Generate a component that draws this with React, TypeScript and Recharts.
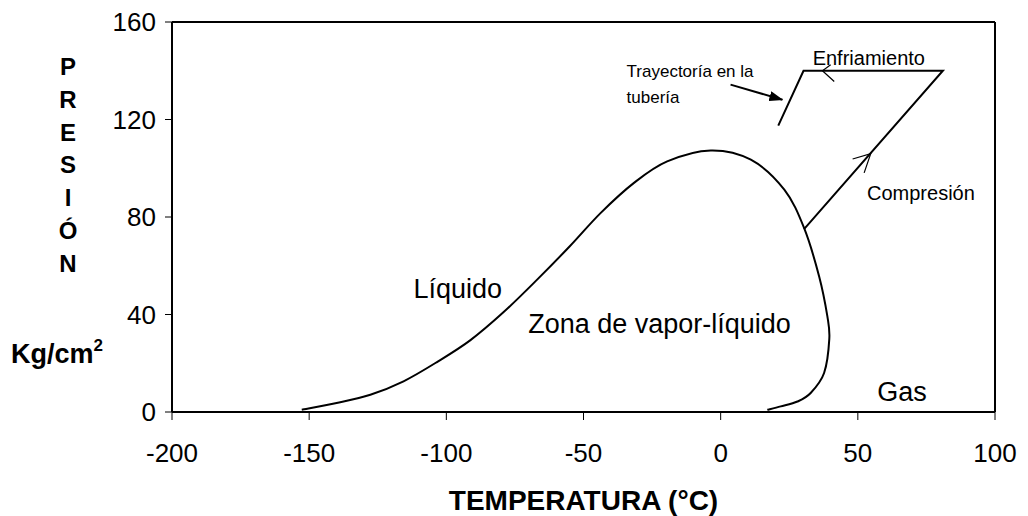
import React from 'react';
import { LineChart, Line, XAxis, YAxis, ReferenceLine, ReferenceDot } from 'recharts';

const FONT = '"Liberation Sans", Arial, Helvetica, sans-serif';

const xTicks = [-200, -150, -100, -50, 0, 50, 100];
const yTicks = [0, 40, 80, 120, 160];

// saturation dome: temperatura (°C) / presión (kg/cm2), read around the curve
// from the bottom-left end, over the top, down to the bottom-right end
const domeT = [-152.7, -140, -127.7, -115.6, -103.4, -91.2, -79.1, -66.9, -55, -43.8, -31.6, -19.5, -3.6, 11, 23.2, 30.4, 35.9, 38.9, 39.6, 37.7, 32.8, 28, 21.9, 17];
const domeP = [0.9, 3.7, 7.1, 12.6, 20.5, 29.5, 41, 54.3, 68, 81.6, 94, 102.8, 107.3, 103.5, 91.2, 75.5, 55.6, 39.2, 30, 16, 7.8, 4.3, 2.3, 0.9];

// compresión -> enfriamiento -> tubería
const cycleT = [30.4, 81, 30.2, 21];
const cycleP = [75, 140, 140, 117.5];

// open arrow heads on the cycle
const compArrowT = [48.1, 54.7, 52.3];
const compArrowP = [103.8, 106, 98.1];
const coolArrowT = [40.1, 37.1, 41.4];
const coolArrowP = [142.5, 140, 135.6];

// pointer to the pipe line
const pipeArrowT = [3.6, 22.5];
const pipeArrowP = [134.3, 128.1];

const zip = (ts: number[], ps: number[]) => ts.map((t, i) => ({ t, p: ps[i] }));

const dome = zip(domeT, domeP);
const cycle = zip(cycleT, cycleP);
const compArrow = zip(compArrowT, compArrowP);
const coolArrow = zip(coolArrowT, coolArrowP);
const pipeArrow = zip(pipeArrowT, pipeArrowP);

const notes = [
  { text: 'Líquido', t: -95.8, p: 50.8, size: 27, anchor: 'middle' },
  { text: 'Zona de vapor-líquido', t: -22.3, p: 36.5, size: 27, anchor: 'middle' },
  { text: 'Gas', t: 66.1, p: 8.3, size: 27, anchor: 'middle' },
  { text: 'Compresión', t: 73, p: 90, size: 20, anchor: 'middle' },
  { text: 'Enfriamiento', t: 54, p: 145.4, size: 20, anchor: 'middle' },
  { text: 'Trayectoría en la', t: -34.3, p: 140.1, size: 17, anchor: 'start' },
  { text: 'tubería', t: -34.3, p: 129.4, size: 17, anchor: 'start' },
];

const yLetters = ['P', 'R', 'E', 'S', 'I', 'Ó', 'N'];

// Catmull-Rom curve (passes through every point, works when x turns back)
const catmullRom = (context: any) => {
  let pts: [number, number][] = [];
  return {
    areaStart() {},
    areaEnd() {},
    lineStart() {
      pts = [];
    },
    point(x: number, y: number) {
      pts.push([+x, +y]);
    },
    lineEnd() {
      if (!pts.length) return;
      context.moveTo(pts[0][0], pts[0][1]);
      for (let i = 0; i < pts.length - 1; i++) {
        const p0 = pts[i - 1] || pts[i];
        const p1 = pts[i];
        const p2 = pts[i + 1];
        const p3 = pts[i + 2] || p2;
        context.bezierCurveTo(
          p1[0] + (p2[0] - p0[0]) / 6,
          p1[1] + (p2[1] - p0[1]) / 6,
          p2[0] - (p3[0] - p1[0]) / 6,
          p2[1] - (p3[1] - p1[1]) / 6,
          p2[0],
          p2[1]
        );
      }
    },
  };
};

const NoteLabel = (props: any) => {
  const { viewBox, text, size, anchor } = props;
  const cx = viewBox.x + (viewBox.width || 0) / 2;
  const cy = viewBox.y + (viewBox.height || 0) / 2;
  return (
    <text x={cx} y={cy + size * 0.355} textAnchor={anchor} fontSize={size} fontFamily={FONT} fill="#000">
      {text}
    </text>
  );
};

const YTitle = (props: any) => {
  const { viewBox } = props;
  const x0 = viewBox.x;
  return (
    <g fontFamily={FONT} fontWeight="bold" fill="#000">
      {yLetters.map((l, i) => (
        <text key={l} x={x0 + 68} y={75 + i * 32.8} textAnchor="middle" fontSize={24}>
          {l}
        </text>
      ))}
      <text x={x0 + 11} y={363} fontSize={27}>
        Kg/cm<tspan dy={-12} fontSize={17}>2</tspan>
      </text>
    </g>
  );
};

const XTitle = (props: any) => {
  const { viewBox } = props;
  return (
    <text
      x={viewBox.x + viewBox.width / 2}
      y={viewBox.y + 98}
      textAnchor="middle"
      fontSize={28}
      fontWeight="bold"
      fontFamily={FONT}
      fill="#000"
    >
      TEMPERATURA (°C)
    </text>
  );
};

export default function App() {
  return (
    <div style={{ position: 'absolute', left: 0, top: 0, background: '#fff' }}>
      <svg width={0} height={0} style={{ position: 'absolute' }}>
        <defs>
          <marker id="pipeHead" viewBox="0 0 14 10" refX={13} refY={5} markerWidth={14} markerHeight={10} markerUnits="userSpaceOnUse" orient="auto">
            <path d="M0,0 L14,5 L0,10 Z" fill="#000" />
          </marker>
        </defs>
      </svg>
      <LineChart width={1028} height={516} margin={{ top: 22, right: 33, left: 0, bottom: 0 }}>
        <XAxis
          dataKey="t"
          type="number"
          domain={[-200, 100]}
          ticks={xTicks}
          interval={0}
          allowDataOverflow
          height={104}
          axisLine={{ stroke: '#000', strokeWidth: 2 }}
          tickLine={{ stroke: '#000', strokeWidth: 1 }}
          tickSize={8}
          tickMargin={24}
          tick={{ fill: '#000', fontSize: 26, fontFamily: FONT }}
          label={<XTitle />}
        />
        <YAxis
          dataKey="p"
          type="number"
          domain={[0, 160]}
          ticks={yTicks}
          interval={0}
          allowDataOverflow
          width={172}
          axisLine={{ stroke: '#000', strokeWidth: 2 }}
          tickLine={{ stroke: '#000', strokeWidth: 1 }}
          tickSize={7}
          tickMargin={9}
          tick={{ fill: '#000', fontSize: 26, fontFamily: FONT }}
          label={<YTitle />}
        />
        <ReferenceLine y={160} stroke="#000" strokeWidth={2} />
        <ReferenceLine x={100} stroke="#000" strokeWidth={2} />

        <Line data={dome} dataKey="p" type={catmullRom as any} stroke="#000" strokeWidth={2} dot={false} activeDot={false} isAnimationActive={false} />
        <Line data={cycle} dataKey="p" type="linear" stroke="#000" strokeWidth={2} dot={false} activeDot={false} isAnimationActive={false} />
        <Line data={compArrow} dataKey="p" type="linear" stroke="#000" strokeWidth={1.2} dot={false} activeDot={false} isAnimationActive={false} />
        <Line data={coolArrow} dataKey="p" type="linear" stroke="#000" strokeWidth={1.2} dot={false} activeDot={false} isAnimationActive={false} />
        <Line data={pipeArrow} dataKey="p" type="linear" stroke="#000" strokeWidth={2} dot={false} activeDot={false} markerEnd="url(#pipeHead)" isAnimationActive={false} />

        {notes.map((n) => (
          <ReferenceDot
            key={n.text}
            x={n.t}
            y={n.p}
            r={0}
            fill="none"
            stroke="none"
            label={<NoteLabel text={n.text} size={n.size} anchor={n.anchor} />}
          />
        ))}
      </LineChart>
    </div>
  );
}
